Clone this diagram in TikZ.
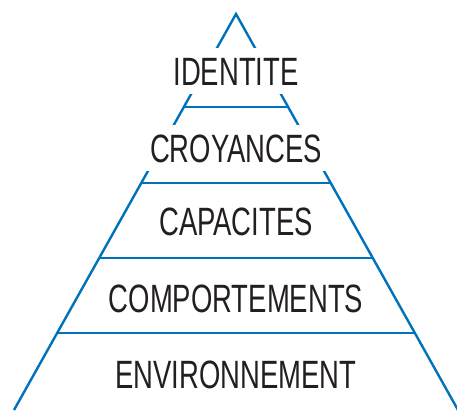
\documentclass[tikz,border=0pt]{standalone}
\usepackage{fontspec}
\setmainfont{Liberation Sans}[FakeStretch=0.695]
\definecolor{pyrblue}{HTML}{0072BC}
\definecolor{txtgray}{HTML}{231F20}
\begin{document}
\begin{tikzpicture}[x=1pt,y=-1pt,
  edge/.style={draw=pyrblue,line width=2.4pt},
  lbl/.style={text=txtgray,font=\fontsize{39.5}{41}\selectfont,anchor=base,inner sep=0pt},
  masklbl/.style={lbl,fill=white,inner xsep=4pt,text height=28pt,text depth=0pt,inner ysep=9pt}]
\useasboundingbox (0,0) rectangle (457,410);
% apex and base
\coordinate (apex) at (236,14);
\coordinate (bl) at (14,410);
\coordinate (br) at (458,410);
% level lines
\coordinate (l1a) at (183.8,107); \coordinate (l1b) at (288.2,107);
\coordinate (l2a) at (141.2,183); \coordinate (l2b) at (330.8,183);
\coordinate (l3a) at (99.1,258);  \coordinate (l3b) at (372.9,258);
\coordinate (l4a) at (57,333);    \coordinate (l4b) at (415,333);
\draw[edge,line join=miter] (bl) -- (apex) -- (br);
\draw[edge] (l1a) -- (l1b);
\draw[edge] (l2a) -- (l2b);
\draw[edge] (l3a) -- (l3b);
\draw[edge] (l4a) -- (l4b);
% labels
\node[masklbl] (identite) at (236,85) {IDENTITE};
\node[masklbl] (croyances) at (236,162) {CROYANCES};
\node[lbl] (capacites) at (236,235) {CAPACITES};
\node[lbl] (comportements) at (236,312) {COMPORTEMENTS};
\node[lbl] (environnement) at (236,388) {ENVIRONNEMENT};
\end{tikzpicture}
\end{document}
